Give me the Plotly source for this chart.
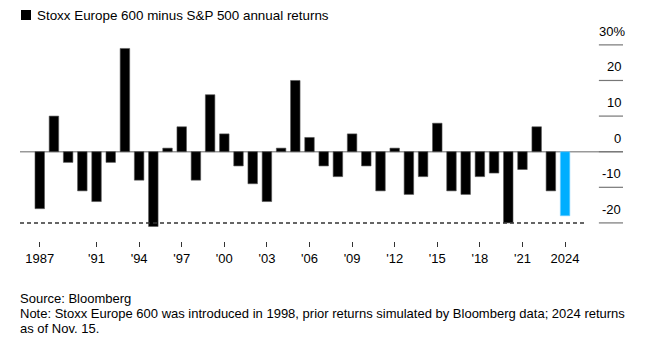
import plotly.graph_objects as go

years = list(range(1987, 2025))
returns = [-16, 10, -3, -11, -14, -3, 29, -8, -21, 1,
           7, -8, 16, 5, -4, -9, -14, 1, 20, 4,
           -4, -7, 5, -4, -11, 1, -12, -7, 8, -11,
           -12, -7, -6, -20, -5, 7, -11, -18]
tick_years = [1987, 1991, 1994, 1997, 2000, 2003, 2006, 2009, 2012, 2015, 2018, 2021, 2024]
tick_text = ["1987", "'91", "'94", "'97", "'00", "'03", "'06", "'09", "'12", "'15", "'18", "'21", "2024"]
y_ticks = [-20, -10, 0, 10, 20, 30]
y_text = ["-20", "-10", "0", "10", "20", "30%"]
dashed_level = -20
highlight_year = 2024

title = "Stoxx Europe 600 minus S&P 500 annual returns"
footnote_lines = [
    "Source: Bloomberg",
    "Note: Stoxx Europe 600 was introduced in 1998, prior returns simulated by Bloomberg data; 2024 returns",
    "as of Nov. 15.",
]

BLACK = "#000000"
BLUE = "#00AEFF"
FONT = "Liberation Sans, Arial, sans-serif"

colors = [BLUE if y == highlight_year else BLACK for y in years]
line_colors = ["#7fd3ff" if y == highlight_year else "#555555" for y in years]

fig = go.Figure()
fig.add_trace(go.Bar(
    x=years, y=returns,
    marker=dict(color=colors, line=dict(color=line_colors, width=0.6)),
    showlegend=False, hoverinfo="x+y",
))

W, H = 645, 351
ml, mr, mt, mb = 20, 22, 40, 110
PW, PH = W - ml - mr, H - mt - mb


def px_x(px):
    return (px - ml) / PW


def px_y(py):
    return 1 - (py - mt) / PH


fig.update_layout(
    width=W, height=H,
    margin=dict(l=ml, r=mr, t=mt, b=mb, pad=0),
    paper_bgcolor="white", plot_bgcolor="white",
    bargap=0.33,
    font=dict(family=FONT, size=13, color="#000000"),
    xaxis=dict(
        range=[1985.61, 2028.08],
        tickmode="array", tickvals=tick_years, ticktext=tick_text,
        ticks="outside", ticklen=5, tickwidth=1, tickcolor="#333333",
        showgrid=False, zeroline=False, showline=False,
        tickfont=dict(size=13, family=FONT, color="#000000"),
        ticklabelstandoff=0,
        fixedrange=True,
    ),
    yaxis=dict(
        range=[-25.08, 31.37],
        showgrid=False, zeroline=False, showline=False,
        showticklabels=False, ticks="",
        fixedrange=True,
    ),
)

shapes = []
shapes.append(dict(type="line", xref="paper", yref="y", x0=0, x1=1, y0=0, y1=0,
                   line=dict(color="#999999", width=1.5), layer="below"))
for v in y_ticks:
    shapes.append(dict(type="line", xref="paper", yref="y", x0=0.96, x1=1, y0=v, y1=v,
                       line=dict(color="#777777", width=1.2)))
shapes.append(dict(type="line", xref="paper", yref="y", x0=0, x1=0.937,
                   y0=dashed_level, y1=dashed_level,
                   line=dict(color="#333333", width=1.5, dash="4px,3px")))
# legend square for the title
shapes.append(dict(type="rect", xref="paper", yref="paper",
                   x0=px_x(21), x1=px_x(31), y0=px_y(20), y1=px_y(10),
                   fillcolor="#000000", line=dict(width=0)))
fig.update_layout(shapes=shapes)

annotations = []
for v, t in zip(y_ticks, y_text):
    annotations.append(dict(
        xref="paper", yref="y", x=1, y=v, text=t, showarrow=False,
        xanchor="right", yanchor="bottom", yshift=4,
        xshift=4 if t.endswith("%") else 0,
        font=dict(size=13, family=FONT, color="#000000"),
    ))
annotations.append(dict(
    xref="paper", yref="paper", x=px_x(35), y=px_y(15),
    text=title, showarrow=False, xanchor="left", yanchor="middle",
    font=dict(size=13.4, family=FONT, color="#000000"),
))
for i, line in enumerate(footnote_lines):
    annotations.append(dict(
        xref="paper", yref="paper", x=px_x(18), y=px_y(298 + 15 * i),
        text=line, showarrow=False, xanchor="left", yanchor="middle", align="left",
        font=dict(size=13, family=FONT, color="#000000"),
    ))
fig.update_layout(annotations=annotations)

fig.write_html("out.html")
